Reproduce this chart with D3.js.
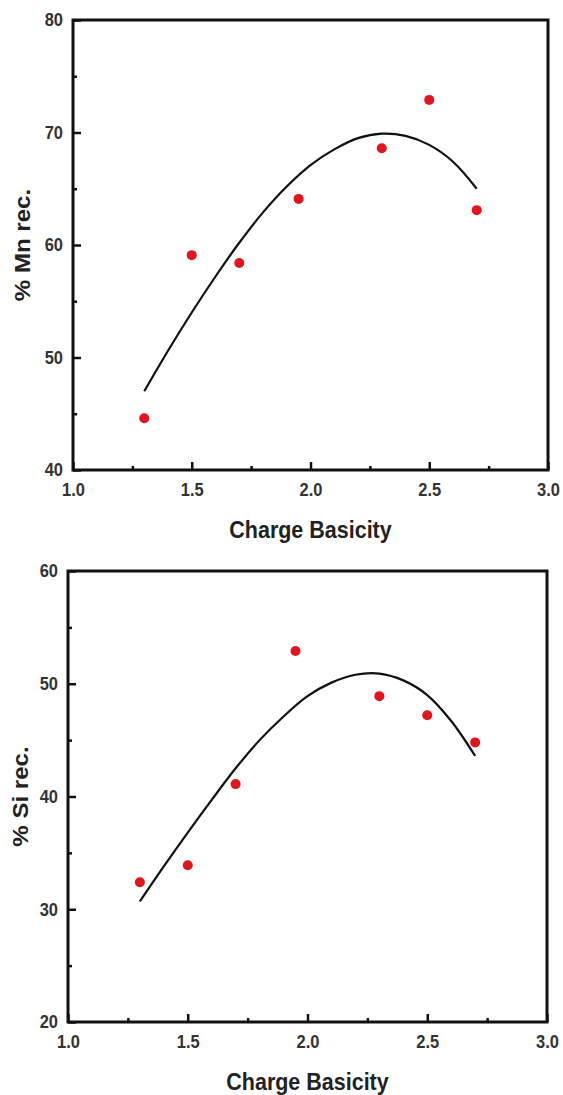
<!DOCTYPE html>
<html>
<head>
<meta charset="utf-8">
<script src="https://cdn.jsdelivr.net/npm/d3@7"></script>
<style>
  body { margin: 0; background: #fff; }
  svg { display: block; font-family: "Liberation Sans", Arial, sans-serif; font-weight: bold; }
</style>
</head>
<body>
<div id="chart"></div>
<script>
// Charge basicity values (shared by both panels)
const basicity = [1.3, 1.5, 1.7, 1.95, 2.3, 2.5, 2.7]

// Measured recoveries
const mnRec = [44.6, 59.1, 58.4, 64.1, 68.6, 72.9, 63.1]
const siRec = [32.4, 33.9, 41.1, 52.9, 48.9, 47.2, 44.8]

// Fitted trend lines, every 0.1
const fitX  = [1.3, 1.4, 1.5, 1.6, 1.7, 1.8, 1.9, 2.0, 2.1, 2.2, 2.3, 2.4, 2.5, 2.6, 2.7]
const mnFit = [47.0, 50.6, 54.0, 57.2, 60.2, 62.9, 65.2, 67.1, 68.5, 69.5, 69.9, 69.7, 68.9, 67.4, 65.0]
const siFit = [30.7, 33.8, 36.8, 39.7, 42.5, 45.0, 47.1, 48.9, 50.1, 50.8, 50.9, 50.3, 49.0, 46.7, 43.6]

// Tick labels
const xTicks = [1.0, 1.5, 2.0, 2.5, 3.0]
const mnTicks = [40, 50, 60, 70, 80]
const siTicks = [20, 30, 40, 50, 60]

const width = 563
const height = 1095

// the original figure is slightly stretched vertically
const stretch = 1.12

const svg = d3.select("#chart")
    .append("svg")
    .attr("width", width)
    .attr("height", height)

/**
 * Draw one panel
 */
function makePanel(opt) {
    const g = svg.append("g")

    const xScale = d3.scaleLinear().domain([1, 3]).range([opt.left, opt.right])
    const yScale = d3.scaleLinear().domain([opt.yTicks[0], opt.yTicks[opt.yTicks.length - 1]])
                     .range([opt.bottom, opt.top])

    // minor ticks sit halfway between the major ones
    const xMinor = xTicks.slice(1).map((d, i) => (d + xTicks[i]) / 2)
    const yMinor = opt.yTicks.slice(1).map((d, i) => (d + opt.yTicks[i]) / 2)

    g.append("g")
        .attr("transform", "translate(0," + opt.bottom + ")")
        .call(d3.axisBottom(xScale).tickValues(xTicks).tickFormat(d3.format(".1f"))
              .tickSizeInner(-8).tickSizeOuter(0).tickPadding(13))
    g.append("g")
        .attr("transform", "translate(0," + opt.bottom + ")")
        .call(d3.axisBottom(xScale).tickValues(xMinor).tickFormat("")
              .tickSizeInner(-4).tickSizeOuter(0))

    g.append("g")
        .attr("transform", "translate(" + opt.left + ",0)")
        .call(d3.axisLeft(yScale).tickValues(opt.yTicks).tickFormat(d3.format("d"))
              .tickSizeInner(-8).tickSizeOuter(0).tickPadding(10))
    g.append("g")
        .attr("transform", "translate(" + opt.left + ",0)")
        .call(d3.axisLeft(yScale).tickValues(yMinor).tickFormat("")
              .tickSizeInner(-4).tickSizeOuter(0))

    g.selectAll(".domain").remove()
    g.selectAll(".tick line").attr("stroke", "#111").attr("stroke-width", 2.5)
    g.selectAll(".tick text")
        .attr("fill", "#333")
        .style("font-size", "16.5px")
        .style("font-family", "'Liberation Sans', Arial, sans-serif")
        .style("font-weight", "bold")
        .each(function() {
            const t = d3.select(this)
            const x = +t.attr("x") || 0
            const y = +t.attr("y") || 0
            t.attr("x", 0).attr("y", 0)
             .attr("transform", `translate(${x},${y}) scale(1,${stretch})`)
        })

    // frame
    g.append("rect")
        .attr("x", opt.left)
        .attr("y", opt.top)
        .attr("width", opt.right - opt.left)
        .attr("height", opt.bottom - opt.top)
        .attr("fill", "none")
        .attr("stroke", "#111")
        .attr("stroke-width", 3)

    // fitted curve
    const line = d3.line()
        .x(d => xScale(d[0]))
        .y(d => yScale(d[1]))
        .curve(d3.curveCatmullRom)
    g.append("path")
        .datum(fitX.map((d, i) => [d, opt.fit[i]]))
        .attr("d", line)
        .attr("fill", "none")
        .attr("stroke", "#111")
        .attr("stroke-width", 2.2)

    // measured points
    g.selectAll("circle")
        .data(basicity.map((d, i) => [d, opt.values[i]]))
        .enter()
        .append("circle")
        .attr("cx", d => xScale(d[0]))
        .attr("cy", d => yScale(d[1]))
        .attr("r", 5)
        .attr("fill", "#e3141c")

    // axis titles
    g.append("text")
        .attr("text-anchor", "middle")
        .attr("transform", "translate(" + (opt.left + opt.right) / 2 + "," + (opt.bottom + 68) + ") scale(1," + stretch + ")")
        .attr("fill", "#222")
        .style("font-size", "21.5px")
        .text("Charge Basicity")

    g.append("text")
        .attr("text-anchor", "middle")
        .attr("transform", "translate(" + opt.titleX + "," + (opt.top + opt.bottom) / 2 + ") rotate(-90) scale(" + stretch + ",1)")
        .attr("fill", "#222")
        .style("font-size", "21.5px")
        .text(opt.yTitle)
}

makePanel({ left: 73, right: 548, top: 20, bottom: 470, yTicks: mnTicks,
            values: mnRec, fit: mnFit, yTitle: "% Mn rec.", titleX: 30 })
makePanel({ left: 68, right: 547, top: 571, bottom: 1022, yTicks: siTicks,
            values: siRec, fit: siFit, yTitle: "% Si rec.", titleX: 28 })
</script>
</body>
</html>
